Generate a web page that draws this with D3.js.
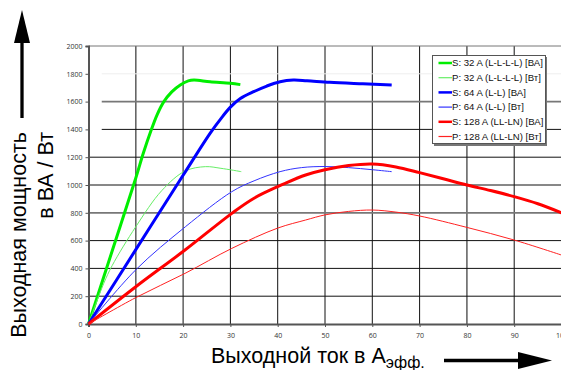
<!DOCTYPE html>
<html>
<head>
<meta charset="utf-8">
<script src="https://cdn.jsdelivr.net/npm/d3@7"></script>
<style>
  html, body { margin: 0; padding: 0; background: #fff; }
  svg { display: block; }
</style>
</head>
<body>
<div id="chart"></div>
<script>
// values: [current A, power]
const s32va = [[0,0],[5,525],[10,1050],[11.6,1230],[13.2,1390],[14.5,1505],[15.9,1598],[17.6,1670],[19.4,1720],[21.1,1749],[22.3,1755],[25.7,1742],[30,1732],[32.1,1722]];
const p32w = [[0,0],[3.2,290],[5,420],[10,700],[15.5,960],[20.4,1100],[24.7,1132],[28,1120],[32.3,1096]];
const s64va = [[0,0],[10,535],[20,1070],[25.7,1372],[28,1478],[30,1560],[32.1,1622],[34.9,1671],[37.7,1712],[40.5,1743],[43.3,1755],[46.2,1750],[51,1739],[58,1728],[64.1,1719]];
const p64w = [[0,0],[10,390],[20.5,700],[30.3,952],[35,1030],[40.5,1096],[45,1125],[50,1133],[55,1125],[60,1110],[64.1,1096]];
const s128va = [[0,0],[10,268],[20.4,532],[30.3,796],[35,905],[41.6,1012],[45.9,1072],[50,1110],[55,1140],[60,1151],[65,1130],[70,1089],[75,1045],[80,1000],[85,960],[90,916],[95,865],[100,800]];
const p128w = [[0,0],[10,190],[20.4,364],[30.3,544],[40,690],[45.9,748],[50,785],[55,810],[60,820],[65,805],[70,777],[80,695],[90,604],[100,496]];

const seriesNames = ['S: 32 A (L-L-L-L) [ВА]', 'P: 32 A (L-L-L-L) [Вт]', 'S: 64 A (L-L) [ВА]', 'P: 64 A (L-L) [Вт]', 'S: 128 A (LL-LN) [ВА]', 'P: 128 A (LL-LN) [Вт]'];
const seriesData = [s32va, p32w, s64va, p64w, s128va, p128w];
const seriesColors = ['#00ee00', '#66ee66', '#0000ff', '#3333ff', '#ff0000', '#ff2222'];
const seriesWidths = [3, 1, 3, 1, 3, 1];

const xTicks = d3.range(0, 101, 10);
const yTicks = d3.range(0, 2001, 200);

const W = 561, H = 370;
const svg = d3.select('#chart').append('svg').attr('width', W).attr('height', H);
svg.append('rect').attr('width', W).attr('height', H).attr('fill', '#fff');

const x = d3.scaleLinear().domain([0, 100]).range([88.5, 561.5]);
const y = d3.scaleLinear().domain([0, 2000]).range([324, 46]);

// grid
const grid = svg.append('g');
grid.selectAll('.vg').data(xTicks.filter(t => t > 0)).join('line')
  .attr('x1', d => x(d)).attr('x2', d => x(d)).attr('y1', y(2000)).attr('y2', y(0))
  .attr('stroke', d => (d === 10 || d === 80) ? '#666' : '#111')
  .attr('stroke-width', d => (d === 10 || d === 80) ? 1.6 : 1);
grid.selectAll('.hg').data(yTicks.filter(t => t > 0 && t < 2000)).join('line')
  .attr('x1', d => d >= 1400 ? x(2.8) : x(0)).attr('x2', x(100))
  .attr('y1', d => y(d)).attr('y2', d => y(d))
  .attr('stroke', d => d === 1800 ? '#eee' : (d === 1600 || d === 800) ? '#777' : '#111')
  .attr('stroke-width', d => (d === 1600 || d === 800) ? 1.8 : 1);
svg.append('line').attr('x1', x(0)).attr('x2', x(100)).attr('y1', y(2000)).attr('y2', y(2000))
  .attr('stroke', '#777').attr('stroke-width', 1);

// axes
const xAxis = svg.append('g').attr('transform', `translate(0,${y(0)})`)
  .call(d3.axisBottom(x).tickValues(xTicks).tickFormat(d3.format('d')).tickSize(3).tickPadding(6));
const yAxis = svg.append('g').attr('transform', `translate(${x(0)},0)`)
  .call(d3.axisLeft(y).tickValues(yTicks).tickFormat(d3.format('d')).tickSize(3).tickPadding(3));
[xAxis, yAxis].forEach(a => {
  a.select('.domain').attr('stroke', '#555').attr('stroke-width', 2);
  a.selectAll('.tick line').attr('stroke', '#555');
  a.selectAll('text').attr('fill', '#333').style('font-family', '"Open Sans", sans-serif').style('font-size', '7px');
});

// lines
const line = d3.line().x(d => x(d[0])).y(d => y(d[1])).curve(d3.curveCatmullRom.alpha(0.5));
svg.append('g').selectAll('path').data(seriesData).join('path')
  .attr('d', line)
  .attr('fill', 'none')
  .attr('stroke', (d, i) => seriesColors[i])
  .attr('stroke-width', (d, i) => seriesWidths[i])
  .attr('stroke-linejoin', 'round');

// legend
const lg = svg.append('g').attr('transform', 'translate(432.5,55.5)');
lg.append('rect').attr('x', 1.5).attr('y', 1.5).attr('width', 113).attr('height', 89).attr('fill', '#777');
lg.append('rect').attr('width', 113).attr('height', 88).attr('fill', '#fff').attr('stroke', '#555').attr('stroke-width', 1);
seriesNames.forEach((name, i) => {
  const ry = 7.5 + i * 14.7;
  lg.append('line').attr('x1', 6).attr('x2', 19.5).attr('y1', ry).attr('y2', ry)
    .attr('stroke', seriesColors[i]).attr('stroke-width', seriesWidths[i] === 3 ? 2.5 : 1.2);
  lg.append('text').attr('x', 19.5).attr('y', ry).attr('dy', '0.35em')
    .style('font-family', '"Liberation Sans", Arial, sans-serif').style('font-size', '9.6px').attr('fill', '#111')
    .text(name);
});

// axis titles
const titleFont = '"Liberation Sans", Arial, sans-serif';
const yt = svg.append('text').attr('transform', 'translate(26,132) rotate(-90)')
  .attr('text-anchor', 'end').style('font-family', titleFont).style('font-size', '21.5px').attr('fill', '#000');
yt.append('tspan').attr('x', 0).attr('y', 0).text('Выходная мощность');
yt.append('tspan').attr('x', 0).attr('y', 27).text('в ВА / Вт');

const xt = svg.append('text').attr('x', 211).attr('y', 363)
  .style('font-family', titleFont).style('font-size', '21.5px').attr('fill', '#000');
xt.append('tspan').text('Выходной ток в A');
xt.append('tspan').attr('dy', 5).style('font-size', '16px').text('эфф.');

// arrows
svg.append('line').attr('x1', 22).attr('x2', 22).attr('y1', 118).attr('y2', 40)
  .attr('stroke', '#000').attr('stroke-width', 3.3);
svg.append('path').attr('d', 'M22,10 L30,43 L14,43 Z').attr('fill', '#000');
svg.append('line').attr('x1', 444).attr('x2', 520).attr('y1', 360.5).attr('y2', 360.5)
  .attr('stroke', '#000').attr('stroke-width', 3.3);
svg.append('path').attr('d', 'M552,360.5 L518,352 L518,369 Z').attr('fill', '#000');
</script>
</body>
</html>
